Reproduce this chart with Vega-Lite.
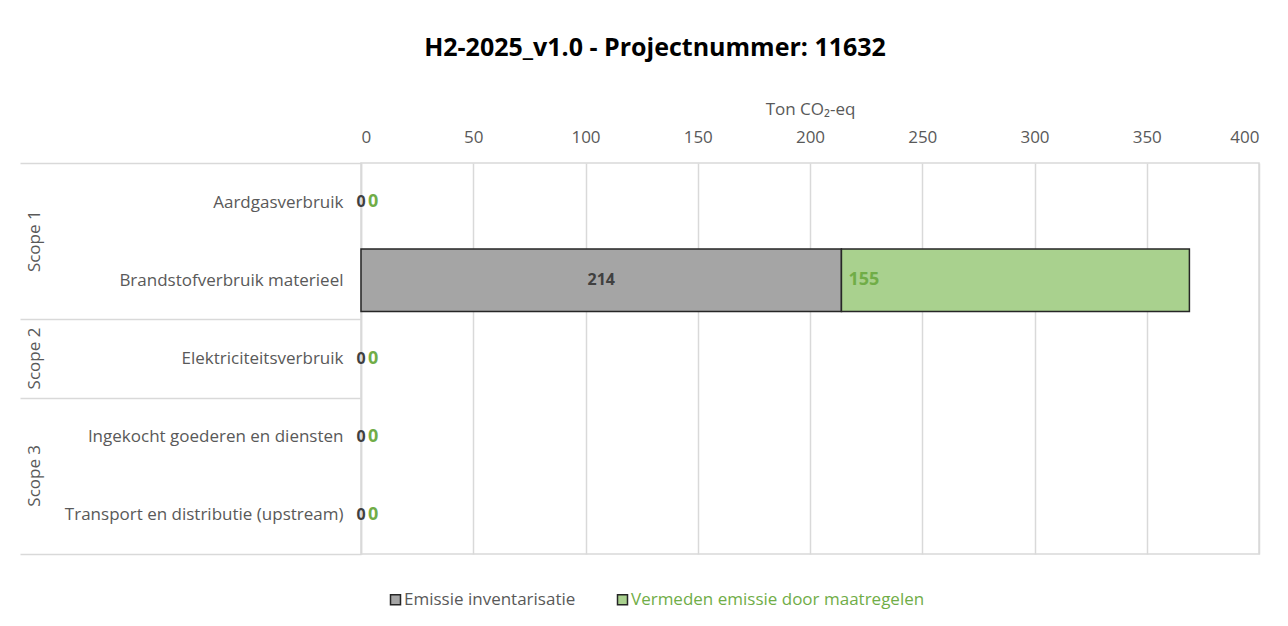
{
  "$schema": "https://vega.github.io/schema/vega-lite/v6.json",
  "autosize": "none",
  "width": 898,
  "height": 391,
  "padding": {"left": 361, "top": 163, "right": 29, "bottom": 72},
  "background": "white",
  "title": {
    "text": "H2-2025_v1.0 - Projectnummer: 11632",
    "font": "Open Sans",
    "fontSize": 25,
    "fontWeight": "bold",
    "color": "#000000",
    "anchor": "middle",
    "dx": -155,
    "offset": 39
  },
  "config": {
    "font": "Open Sans",
    "view": {"stroke": "#d9d9d9", "strokeWidth": 1.5}
  },
  "data": {
    "values": [
      {"category": "Aardgasverbruik", "scope": "Scope 1", "series": "Emissie inventarisatie", "value": 0},
      {"category": "Aardgasverbruik", "scope": "Scope 1", "series": "Vermeden emissie door maatregelen", "value": 0},
      {"category": "Brandstofverbruik materieel", "scope": "Scope 1", "series": "Emissie inventarisatie", "value": 214},
      {"category": "Brandstofverbruik materieel", "scope": "Scope 1", "series": "Vermeden emissie door maatregelen", "value": 155},
      {"category": "Elektriciteitsverbruik", "scope": "Scope 2", "series": "Emissie inventarisatie", "value": 0},
      {"category": "Elektriciteitsverbruik", "scope": "Scope 2", "series": "Vermeden emissie door maatregelen", "value": 0},
      {"category": "Ingekocht goederen en diensten", "scope": "Scope 3", "series": "Emissie inventarisatie", "value": 0},
      {"category": "Ingekocht goederen en diensten", "scope": "Scope 3", "series": "Vermeden emissie door maatregelen", "value": 0},
      {"category": "Transport en distributie (upstream)", "scope": "Scope 3", "series": "Emissie inventarisatie", "value": 0},
      {"category": "Transport en distributie (upstream)", "scope": "Scope 3", "series": "Vermeden emissie door maatregelen", "value": 0}
    ]
  },
  "layer": [
    {
      "transform": [{"filter": "datum.value > 0"}],
      "mark": {"type": "bar", "stroke": "#262626", "strokeWidth": 1.5, "height": {"band": 0.8}},
      "encoding": {
        "y": {
          "field": "category",
          "type": "nominal",
          "sort": ["Aardgasverbruik", "Brandstofverbruik materieel", "Elektriciteitsverbruik", "Ingekocht goederen en diensten", "Transport en distributie (upstream)"],
          "scale": {"paddingInner": 0, "paddingOuter": 0},
          "axis": {
            "title": null,
            "labelFont": "Open Sans",
            "labelFontSize": 17,
            "labelColor": "#595959",
            "labelAlign": "right",
            "labelPadding": -323,
            "labelLimit": 0,
            "tickBand": "extent",
            "tickSize": 341,
            "tickColor": "#d9d9d9",
            "tickWidth": 1.5,
            "tickOpacity": {
              "condition": {"test": "datum.value === 'Aardgasverbruik' || datum.value === 'Ingekocht goederen en diensten'", "value": 0},
              "value": 1
            },
            "domainColor": "#d9d9d9",
            "domainWidth": 1.5,
            "grid": false
          }
        },
        "x": {
          "field": "value",
          "type": "quantitative",
          "stack": "zero",
          "scale": {"domain": [0, 400], "nice": false},
          "axis": {
            "orient": "top",
            "values": [0, 50, 100, 150, 200, 250, 300, 350, 400],
            "title": "Ton CO₂-eq",
            "titleFont": "Open Sans",
            "titleFontSize": 17,
            "titleFontWeight": "normal",
            "titleColor": "#595959",
            "titlePadding": 10,
            "labelFont": "Open Sans",
            "labelFontSize": 17,
            "labelColor": "#595959",
            "labelPadding": 17,
            "ticks": false,
            "tickSize": 0,
            "domain": false,
            "grid": true,
            "gridColor": "#d9d9d9",
            "gridWidth": 1.5
          }
        },
        "order": {"field": "series", "sort": "ascending"},
        "color": {
          "field": "series",
          "type": "nominal",
          "scale": {
            "domain": ["Emissie inventarisatie", "Vermeden emissie door maatregelen"],
            "range": ["#a5a5a5", "#a9d18e"]
          },
          "legend": {
            "title": null,
            "orient": "none",
            "legendX": 26,
            "legendY": 428,
            "direction": "horizontal",
            "symbolType": "square",
            "symbolSize": 100,
            "symbolStrokeColor": "#262626",
            "symbolStrokeWidth": 1.5,
            "labelFont": "Open Sans",
            "labelFontSize": 17,
            "labelOffset": 0,
            "labelLimit": 0,
            "columnPadding": 38,
            "encode": {
              "labels": {
                "update": {
                  "fill": {"signal": "datum.value === 'Vermeden emissie door maatregelen' ? '#70ad47' : '#595959'"}
                }
              }
            }
          }
        }
      }
    },
    {
      "mark": {"type": "text", "font": "Open Sans", "fontSize": 16, "fontWeight": "bold", "color": "#404040", "align": "center", "baseline": "middle"},
      "encoding": {
        "y": {"field": "category", "type": "nominal", "sort": ["Aardgasverbruik", "Brandstofverbruik materieel", "Elektriciteitsverbruik", "Ingekocht goederen en diensten", "Transport en distributie (upstream)"]},
        "x": {"field": "value", "type": "quantitative", "stack": "zero", "bandPosition": 0.5},
        "detail": {"field": "series"},
        "order": {"field": "series", "sort": "ascending"},
        "text": {"field": "value", "type": "quantitative"},
        "opacity": {"condition": {"test": "datum.series !== 'Emissie inventarisatie'", "value": 0}, "value": 1}
      }
    },
    {
      "mark": {"type": "text", "font": "Open Sans", "fontSize": 18, "fontWeight": "bold", "color": "#70ad47", "align": "left", "baseline": "middle", "dx": 7},
      "encoding": {
        "y": {"field": "category", "type": "nominal", "sort": ["Aardgasverbruik", "Brandstofverbruik materieel", "Elektriciteitsverbruik", "Ingekocht goederen en diensten", "Transport en distributie (upstream)"]},
        "x": {"field": "value", "type": "quantitative", "stack": "zero", "bandPosition": 0},
        "detail": {"field": "series"},
        "order": {"field": "series", "sort": "ascending"},
        "text": {"field": "value", "type": "quantitative"},
        "opacity": {"condition": {"test": "datum.series !== 'Vermeden emissie door maatregelen'", "value": 0}, "value": 1}
      }
    },
    {
      "transform": [{"filter": "datum.category === 'Aardgasverbruik' && datum.series === 'Emissie inventarisatie'"}],
      "mark": {"type": "text", "font": "Open Sans", "fontSize": 17, "color": "#595959", "angle": 270, "align": "center", "baseline": "middle"},
      "encoding": {
        "y": {"field": "category", "type": "nominal", "sort": ["Aardgasverbruik", "Brandstofverbruik materieel", "Elektriciteitsverbruik", "Ingekocht goederen en diensten", "Transport en distributie (upstream)"], "bandPosition": 1},
        "x": {"datum": -145, "type": "quantitative"},
        "text": {"field": "scope"}
      }
    },
    {
      "transform": [{"filter": "datum.category === 'Elektriciteitsverbruik' && datum.series === 'Emissie inventarisatie'"}],
      "mark": {"type": "text", "font": "Open Sans", "fontSize": 17, "color": "#595959", "angle": 270, "align": "center", "baseline": "middle"},
      "encoding": {
        "y": {"field": "category", "type": "nominal", "sort": ["Aardgasverbruik", "Brandstofverbruik materieel", "Elektriciteitsverbruik", "Ingekocht goederen en diensten", "Transport en distributie (upstream)"], "bandPosition": 0.5},
        "x": {"datum": -145, "type": "quantitative"},
        "text": {"field": "scope"}
      }
    },
    {
      "transform": [{"filter": "datum.category === 'Ingekocht goederen en diensten' && datum.series === 'Emissie inventarisatie'"}],
      "mark": {"type": "text", "font": "Open Sans", "fontSize": 17, "color": "#595959", "angle": 270, "align": "center", "baseline": "middle"},
      "encoding": {
        "y": {"field": "category", "type": "nominal", "sort": ["Aardgasverbruik", "Brandstofverbruik materieel", "Elektriciteitsverbruik", "Ingekocht goederen en diensten", "Transport en distributie (upstream)"], "bandPosition": 1},
        "x": {"datum": -145, "type": "quantitative"},
        "text": {"field": "scope"}
      }
    }
  ]
}
